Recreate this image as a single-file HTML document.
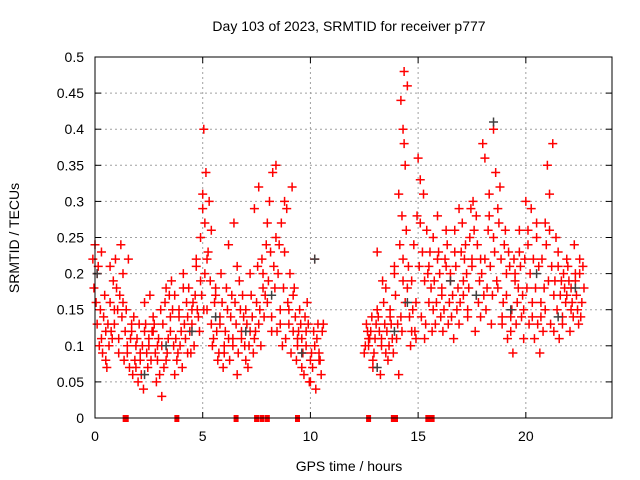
<!DOCTYPE html>
<html><head><meta charset="utf-8"><style>
html,body{margin:0;padding:0;background:#fff;}
svg{display:block;font-family:"Liberation Sans",sans-serif;}
</style></head><body>
<svg id="chart" width="640" height="480" viewBox="0 0 640 480" xmlns="http://www.w3.org/2000/svg">
<rect x="0" y="0" width="640" height="480" fill="#fff"/>
<text x="349" y="31" font-size="14" text-anchor="middle">Day 103 of 2023, SRMTID for receiver p777</text>
<text x="349" y="471" font-size="14" text-anchor="middle">GPS time / hours</text>
<text transform="translate(19,238) rotate(-90)" font-size="14" text-anchor="middle">SRMTID / TECUs</text>
<g id="grid"></g><g id="ticks"></g><g id="marks"></g>
<rect x="95" y="57" width="517" height="361" fill="none" stroke="#000" stroke-width="1"/>
</svg>
<script>
const xTicks=[0,5,10,15,20];
const yTicks=[0,0.05,0.1,0.15,0.2,0.25,0.3,0.35,0.4,0.45,0.5];
const yTickLabels=["0","0.05","0.1","0.15","0.2","0.25","0.3","0.35","0.4","0.45","0.5"];
const times=[0.0,0.2,0.4,0.6,0.8,1.0,1.2,1.4,1.6,1.8,2.0,2.2,2.4,2.6,2.8,3.0,3.2,3.4,3.6,3.8,4.0,4.2,4.4,4.6,4.8,5.0,5.1,5.3,5.5,5.7,5.9,6.1,6.3,6.5,6.7,6.9,7.1,7.3,7.5,7.7,7.9,8.1,8.3,8.5,8.7,8.9,9.1,9.3,9.5,9.7,9.9,10.1,10.3,10.5,
12.6,12.8,13.0,13.2,13.4,13.6,13.8,14.0,14.2,14.3,14.4,14.6,14.8,15.0,15.2,15.4,15.6,15.8,16.0,16.2,16.4,16.6,16.8,17.0,17.2,17.4,17.6,17.8,18.0,18.2,18.4,18.6,18.8,19.0,19.2,19.4,19.6,19.8,20.0,20.2,20.4,20.6,20.8,21.0,21.2,21.4,21.6,21.8,22.0,22.2,22.4,22.6];
const tecu=[
[.22,.24,.20,.18,.16],[.21,.15,.13,.10,.23],[.14,.12,.09,.17,.11],[.10,.08,.13,.16,.07],[.15,.12,.19,.21,.11],
[.13,.18,.09,.22,.15],[.17,.14,.11,.24,.16],[.12,.10,.08,.15,.20],[.11,.09,.07,.13,.22],[.10,.06,.08,.12,.14],
[.07,.05,.09,.11,.13],[.06,.04,.08,.10,.12],[.09,.11,.13,.07,.16],[.12,.10,.08,.14,.17],[.10,.13,.05,.12,.09],
[.08,.06,.03,.11,.15],[.13,.16,.10,.07,.18],[.11,.14,.09,.17,.08],[.10,.12,.15,.06,.19],[.14,.11,.09,.17,.08],
[.15,.12,.18,.10,.07],[.13,.16,.20,.11,.09],[.12,.15,.18,.09,.14],[.17,.13,.10,.21,.16],[.19,.15,.12,.22,.14],
[.25,.29,.20,.17,.15],[.40,.34,.31,.27,.22],[.30,.26,.23,.19,.15],[.16,.13,.11,.18,.10],[.14,.12,.09,.17,.08],
[.13,.16,.10,.20,.07],[.12,.15,.09,.18,.11],[.14,.11,.08,.17,.24],[.13,.10,.16,.21,.27],[.12,.09,.15,.06,.19],
[.11,.14,.08,.17,.10],[.13,.10,.15,.07,.12],[.14,.11,.17,.09,.20],[.21,.29,.16,.32,.12],[.18,.15,.22,.13,.10],
[.20,.17,.27,.14,.24],[.19,.23,.16,.30,.12],[.21,.25,.34,.18,.14],[.24,.35,.20,.15,.12],[.30,.27,.18,.13,.10],
[.23,.29,.15,.11,.16],[.20,.32,.13,.09,.17],[.14,.11,.18,.08,.12],[.13,.10,.15,.07,.12],[.12,.09,.14,.11,.06],
[.10,.13,.08,.16,.05],[.09,.12,.05,.07,.22],[.11,.08,.04,.13,.10],[.12,.09,.06,.13,.08],
[.11,.10,.12,.09,.13],[.10,.12,.08,.11,.14],[.09,.13,.07,.11,.15],[.12,.10,.14,.06,.23],[.13,.11,.16,.09,.19],
[.14,.12,.10,.18,.08],[.15,.11,.20,.13,.09],[.17,.13,.21,.11,.06],[.14,.19,.24,.12,.31],[.48,.44,.40,.35,.28],
[.46,.38,.26,.22,.16],[.18,.14,.12,.21,.10],[.15,.12,.19,.24,.11],[.36,.33,.28,.21,.16],[.31,.27,.23,.19,.14],
[.16,.13,.20,.11,.26],[.21,.18,.15,.23,.12],[.19,.16,.25,.13,.22],[.20,.17,.23,.14,.28],[.22,.18,.15,.26,.12],
[.19,.24,.16,.21,.13],[.20,.17,.23,.14,.11],[.21,.18,.26,.15,.29],[.23,.19,.16,.27,.13],[.20,.17,.24,.14,.22],
[.22,.18,.29,.15,.25],[.21,.26,.17,.30,.12],[.24,.19,.28,.16,.22],[.38,.36,.20,.17,.14],[.26,.22,.18,.31,.15],
[.25,.21,.17,.28,.13],[.40,.34,.29,.23,.19],[.27,.22,.18,.32,.14],[.24,.20,.16,.26,.13],[.21,.17,.23,.14,.11],
[.19,.15,.22,.12,.09],[.20,.16,.23,.13,.18],[.21,.17,.26,.14,.11],[.30,.26,.22,.18,.15],[.29,.24,.20,.16,.13],
[.27,.22,.18,.14,.11],[.25,.21,.16,.13,.09],[.22,.18,.14,.12,.27],[.35,.31,.24,.19,.15],[.38,.26,.21,.17,.13],
[.23,.19,.15,.12,.25],[.21,.17,.14,.11,.19],[.20,.16,.13,.18,.22],[.19,.15,.21,.12,.17],[.24,.18,.14,.20,.16],
[.22,.17,.13,.19,.15],[.20,.16,.18,.14,.21]];
const darkHours=[0.1,2.3,3.3,4.5,5.6,7.0,8.2,9.6,10.2,13.1,13.9,14.5,16.5,17.7,18.5,19.3,20.5,21.5,22.3];
const darkVals=[0.20,0.06,0.10,0.12,0.14,0.12,0.17,0.09,0.22,0.07,0.12,0.16,0.19,0.17,0.41,0.15,0.20,0.14,0.18];
const zeroHours=[1.4,1.45,3.8,6.55,7.5,7.75,8.0,9.4,12.7,13.85,13.95,15.45,15.55,15.65];

const NS='http://www.w3.org/2000/svg';
const X0=95,X1=612,Y0=418,Y1=57;
const xs=h=>X0+h/24*(X1-X0);
const ys=v=>Y0-v/0.5*(Y0-Y1);
function mk(tag,attrs,parent){const e=document.createElementNS(NS,tag);for(const k in attrs)e.setAttribute(k,attrs[k]);parent.appendChild(e);return e;}
const grid=document.getElementById('grid'),ticks=document.getElementById('ticks'),marks=document.getElementById('marks');
xTicks.forEach(t=>{
  const x=xs(t);
  if(t>0){const g=mk('line',{x1:x,x2:x,y1:Y1,y2:Y0,stroke:'#a0a0a0','stroke-dasharray':'2,3'},grid);
  
  }
  mk('line',{x1:x,x2:x,y1:Y0,y2:Y0-6,stroke:'#000'},ticks);
  mk('line',{x1:x,x2:x,y1:Y1,y2:Y1+6,stroke:'#000'},ticks);
  const l=mk('text',{x:x,y:441,'font-size':14,'text-anchor':'middle'},ticks);l.textContent=t;
  
  
});
yTicks.forEach((t,i)=>{
  const y=ys(t);
  if(i>0&&i<yTicks.length-1){const g=mk('line',{x1:X0,x2:X1,y1:y,y2:y,stroke:'#a0a0a0','stroke-dasharray':'2,3'},grid);
  
  }
  mk('line',{x1:X0,x2:X0+6,y1:y,y2:y,stroke:'#000'},ticks);
  mk('line',{x1:X1,x2:X1-6,y1:y,y2:y,stroke:'#000'},ticks);
  const l=mk('text',{x:84,y:y+5,'font-size':14,'text-anchor':'end'},ticks);l.textContent=yTickLabels[i];
  
  
});
function plus(h,v,col,name){
  const x=xs(h),y=ys(v);
  const p=mk('path',{d:`M${x-4.5},${y}h9M${x},${y-4.5}v9`,stroke:col,'stroke-width':1.5,fill:'none'},marks);
  
  
}
times.forEach((t,i)=>{tecu[i].forEach((v,j)=>{plus(t+(((j*2+i)%5)-2)*0.05,v,'#ff0000','data-point');});});
darkHours.forEach((h,i)=>plus(h,darkVals[i],'#404040','data-point-dark'));
zeroHours.forEach(h=>{
  const r=mk('rect',{x:xs(h)-2.5,y:Y0-3,width:5,height:7,fill:'#ff0000'},marks);
  
  
});
</script>
</body></html>
